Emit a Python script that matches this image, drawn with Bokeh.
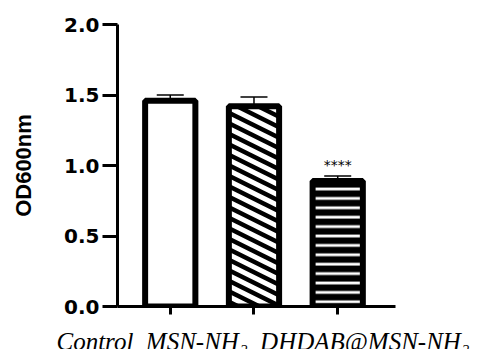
import numpy as np
from bokeh.plotting import figure
from bokeh.layouts import column
from bokeh.models import (ColumnDataSource, Range1d, FixedTicker, PrintfTickFormatter,
                          Whisker, TeeHead)
from bokeh.core.properties import field, value
from bokeh.embed import file_html
from bokeh.resources import INLINE

# ---- data ----
groups = ["Control", "MSN-NH₂", "DHDAB@MSN-NH₂"]
positions = [1, 2, 3]
od600 = [1.46, 1.42, 0.89]
sem = [0.04, 0.065, 0.035]
significance = ["", "", "****"]
y_ticks = [0.0, 0.5, 1.0, 1.5, 2.0]

# ---- layout / style ----
W, H = 478, 320          # main chart
H2 = 29                  # strip with the category names
BL, BR, BT, BB = 117, 83, 24, 14
XR = (0.37, 3.69)
YR = (0.0, 2.0)
bar_w = 0.6
label_left_px = 56       # left edge of the category label line
label_base_px = 8        # baseline height inside the label strip

kx = (W - BL - BR) / (XR[1] - XR[0])   # px per x unit
ky = (H - BT - BB) / (YR[1] - YR[0])   # px per y unit

upper = [v + e for v, e in zip(od600, sem)]
src = ColumnDataSource(dict(
    x=positions, top=od600, upper=upper,
    pat=[" ", " ", "-"],
    hscale=[10, 10, 9.4],
    hweight=[1, 1, 6.6],
))

p = figure(width=W, height=H, output_backend="svg", toolbar_location=None,
           x_range=Range1d(*XR), y_range=Range1d(*YR),
           min_border_left=BL, min_border_right=BR, min_border_top=BT,
           min_border_bottom=BB)
p.outline_line_color = None
p.xgrid.grid_line_color = None
p.ygrid.grid_line_color = None
p.background_fill_color = "white"
p.border_fill_color = "white"

# bar fills (with horizontal hatch for the third bar)
p.vbar(x="x", top="top", width=bar_w, bottom=0, source=src,
       fill_color="white", line_color=None,
       hatch_pattern=field("pat"), hatch_color="black",
       hatch_scale=field("hscale"), hatch_weight=field("hweight"))

# diagonal stripes inside the second bar, clipped to the bar
striped = 1
period = 10.5   # vertical stripe period (px)
slope = 0.5     # px down per px right
x0 = positions[striped] - bar_w / 2
top = od600[striped]
Wpx = bar_w * kx
Hpx = top * ky
sx0, sy0, sx1, sy1 = [], [], [], []
for c in np.arange(-slope * Wpx - period, Hpx + period, period):
    lo = max(0.0, (0.0 - c) / slope)
    hi = min(Wpx, (Hpx - c) / slope)
    if hi > lo:
        sx0.append(x0 + lo / kx); sy0.append(top - (slope * lo + c) / ky)
        sx1.append(x0 + hi / kx); sy1.append(top - (slope * hi + c) / ky)
p.segment(x0=sx0, y0=sy0, x1=sx1, y1=sy1, line_color="black",
          line_width=4.5, line_cap="butt")

# bar outlines on top
p.vbar(x="x", top="top", width=bar_w, bottom=0, source=src,
       fill_color=None, line_color="black", line_width=6)

wh = Whisker(base="x", lower="top", upper="upper", source=src,
             line_color="black", line_width=1.5,
             upper_head=TeeHead(size=27, line_width=1.5, line_color="black"),
             lower_head=None)
p.add_layout(wh)

# significance stars
sig = [(x, u, t) for x, u, t in zip(positions, upper, significance) if t]
star_src = ColumnDataSource(dict(x=[s[0] for s in sig], y=[s[1] + 0.08 for s in sig],
                                 t=[s[2] for s in sig]))
p.text(x="x", y="y", text="t", source=star_src, text_align="center",
       text_baseline="alphabetic", text_font=value("DejaVu Sans"),
       text_font_size="14px", text_color="black")

# axes
p.yaxis.ticker = FixedTicker(ticks=y_ticks)
p.yaxis.formatter = PrintfTickFormatter(format="%.1f")
p.yaxis.minor_tick_line_color = None
p.yaxis.major_tick_out = 15
p.yaxis.major_tick_in = 0
p.yaxis.major_tick_line_width = 3
p.yaxis.axis_line_width = 3
p.yaxis.major_label_text_font = "DejaVu Sans"
p.yaxis.major_label_text_font_style = "bold"
p.yaxis.major_label_text_font_size = "20px"
p.yaxis.major_label_text_color = "black"
p.yaxis.major_label_standoff = 3
p.yaxis.axis_label = "OD600nm"
p.yaxis.axis_label_text_font = "Liberation Sans"
p.yaxis.axis_label_text_font_style = "bold"
p.yaxis.axis_label_text_font_size = "22px"
p.yaxis.axis_label_text_color = "black"
p.yaxis.axis_label_standoff = 25

# x axis: tick marks only (as minor ticks, so no tick labels are produced)
p.xaxis.ticker = FixedTicker(ticks=[], minor_ticks=positions)
p.xaxis.minor_tick_out = 8
p.xaxis.minor_tick_in = 0
p.xaxis.minor_tick_line_width = 3
p.xaxis.minor_tick_line_color = "black"
p.xaxis.axis_line_width = 3

# strip below the chart carrying the category names as one line
p2 = figure(width=W, height=H2, output_backend="svg", toolbar_location=None,
            title=None, x_range=Range1d(0, W), y_range=Range1d(0, H2),
            x_axis_type=None, y_axis_type=None, min_border=0)
p2.outline_line_color = None
p2.xgrid.grid_line_color = None
p2.ygrid.grid_line_color = None
p2.background_fill_color = "white"
p2.border_fill_color = "white"
p2.text(x=[label_left_px], y=[label_base_px], text=["\u2002".join(groups)],
        text_font=value("Liberation Serif"), text_font_style="italic",
        text_font_size="25px", text_color="black",
        text_align="left", text_baseline="alphabetic")

# do not align the strip's frame with the chart's frame
for fig in (p, p2):
    try:
        fig.frame_align = False
    except Exception:
        pass

open("out.html", "w").write(file_html(column(p, p2, spacing=0), INLINE))
